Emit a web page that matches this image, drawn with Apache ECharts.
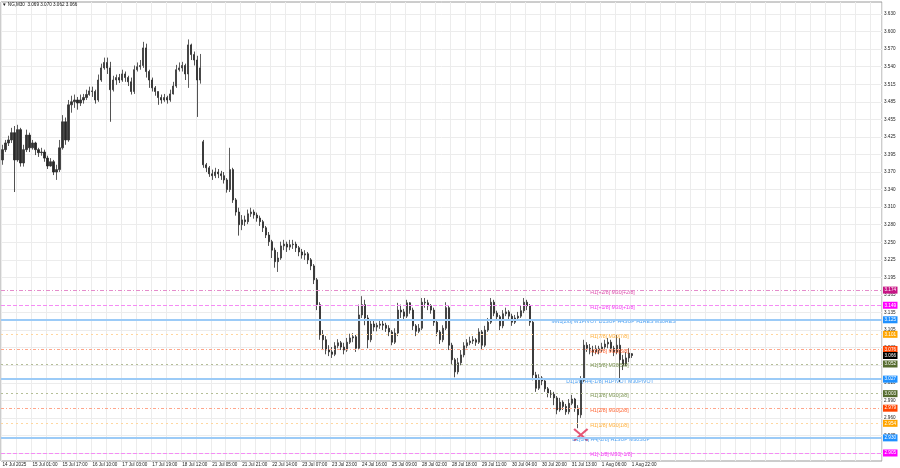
<!DOCTYPE html>
<html><head><meta charset="utf-8">
<script src="https://cdn.jsdelivr.net/npm/echarts@6.0.0/dist/echarts.min.js"></script>
<style>html,body{margin:0;padding:0;background:#fff}#c{width:900px;height:468px}</style>
</head><body><div id="c"></div>
<script>
// ---------------- data ----------------
const symbolName = 'NG,M30';
const timeLabels = ['14 Jul 2025','15 Jul 01:00','15 Jul 17:00','16 Jul 10:00','17 Jul 03:00','17 Jul 19:00','18 Jul 12:00','21 Jul 05:00','21 Jul 21:00','22 Jul 14:00','23 Jul 07:00','23 Jul 23:00','24 Jul 16:00','25 Jul 09:00','28 Jul 02:00','28 Jul 18:00','29 Jul 11:00','30 Jul 04:00','30 Jul 20:00','31 Jul 13:00','1 Aug 06:00','1 Aug 22:00'];
const yTickLabels = ['3.630','3.600','3.570','3.540','3.515','3.485','3.455','3.425','3.395','3.370','3.340','3.310','3.280','3.250','3.225','3.195','3.165','3.135','3.105','3.080','3.050','3.020','2.990','2.960','2.935','2.905'];

const opens = [
3.389,3.406,3.417,3.422,3.434,3.389,3.439,3.384,3.406,3.430,
3.409,3.417,3.406,3.401,3.402,3.392,3.379,3.386,3.369,3.373,
3.409,3.452,3.422,3.480,3.485,3.488,3.483,3.488,3.492,3.497,
3.503,3.502,3.488,3.521,3.541,3.550,3.541,3.505,3.521,3.525,
3.521,3.531,3.525,3.518,3.502,3.538,3.543,3.545,3.574,3.535,
3.521,3.508,3.502,3.492,3.488,3.492,3.488,3.498,3.511,3.538,
3.541,3.545,3.531,3.579,3.563,3.554,3.521,3.419,3.381,3.376,
3.366,3.363,3.369,3.366,3.363,3.356,3.340,3.373,3.323,3.303,
3.282,3.290,3.287,3.300,3.303,3.298,3.293,3.287,3.277,3.265,
3.254,3.240,3.221,3.227,3.247,3.250,3.245,3.249,3.250,3.244,
3.237,3.232,3.234,3.224,3.214,3.191,3.150,3.100,3.092,3.075,
3.072,3.068,3.082,3.087,3.080,3.075,3.088,3.095,3.097,3.078,
3.133,3.150,3.128,3.092,3.118,3.113,3.116,3.118,3.116,3.111,
3.105,3.088,3.103,3.141,3.138,3.131,3.153,3.141,3.115,3.106,
3.111,3.154,3.153,3.148,3.141,3.121,3.105,3.092,3.111,3.145,
3.083,3.059,3.039,3.054,3.067,3.082,3.087,3.090,3.092,3.088,
3.105,3.083,3.108,3.121,3.154,3.136,3.130,3.115,3.135,3.138,
3.131,3.121,3.128,3.131,3.140,3.154,3.148,3.121,3.034,3.012,
3.029,3.024,3.011,3.004,3.002,2.996,2.976,2.989,2.982,2.973,
2.987,2.994,2.979,2.968,3.025,3.083,3.078,3.075,3.072,3.077,
3.075,3.080,3.085,3.088,3.078,3.072,3.083,3.059,3.050,3.062,
3.069];
const closes = [
3.406,3.417,3.422,3.434,3.389,3.439,3.384,3.406,3.430,3.409,
3.417,3.406,3.401,3.402,3.392,3.379,3.386,3.369,3.373,3.409,
3.452,3.422,3.480,3.485,3.488,3.483,3.488,3.492,3.497,3.503,
3.502,3.488,3.521,3.541,3.550,3.541,3.505,3.521,3.525,3.521,
3.531,3.525,3.518,3.502,3.538,3.543,3.545,3.574,3.535,3.521,
3.508,3.502,3.492,3.488,3.492,3.488,3.498,3.511,3.538,3.541,
3.545,3.531,3.579,3.563,3.554,3.521,3.541,3.381,3.376,3.366,
3.363,3.369,3.366,3.363,3.356,3.340,3.373,3.323,3.303,3.282,
3.290,3.287,3.300,3.303,3.298,3.293,3.287,3.277,3.265,3.254,
3.240,3.221,3.227,3.247,3.250,3.245,3.249,3.250,3.244,3.237,
3.232,3.234,3.224,3.214,3.191,3.150,3.100,3.092,3.075,3.072,
3.068,3.082,3.087,3.080,3.075,3.088,3.095,3.097,3.078,3.133,
3.150,3.128,3.092,3.118,3.113,3.116,3.118,3.116,3.111,3.105,
3.088,3.103,3.141,3.138,3.131,3.153,3.141,3.115,3.106,3.111,
3.154,3.153,3.148,3.141,3.121,3.105,3.092,3.111,3.145,3.083,
3.059,3.039,3.054,3.067,3.082,3.087,3.090,3.092,3.088,3.105,
3.083,3.108,3.121,3.154,3.136,3.130,3.115,3.135,3.138,3.131,
3.121,3.128,3.131,3.140,3.154,3.148,3.121,3.034,3.012,3.029,
3.024,3.011,3.004,3.002,2.996,2.976,2.989,2.982,2.973,2.987,
2.994,2.979,2.968,3.025,3.083,3.078,3.075,3.072,3.077,3.075,
3.080,3.085,3.088,3.078,3.072,3.083,3.059,3.050,3.062,3.070,
3.066];
const lows = [
3.381,3.402,3.412,3.417,3.336,3.386,3.378,3.378,3.402,3.402,
3.406,3.397,3.394,3.396,3.386,3.374,3.378,3.364,3.356,3.369,
3.406,3.414,3.419,3.467,3.475,3.472,3.478,3.482,3.488,3.495,
3.493,3.482,3.485,3.518,3.538,3.531,3.452,3.502,3.513,3.516,
3.518,3.518,3.511,3.497,3.498,3.535,3.538,3.541,3.525,3.508,
3.502,3.495,3.480,3.482,3.485,3.482,3.485,3.497,3.508,3.535,
3.535,3.521,3.508,3.554,3.545,3.460,3.515,3.376,3.369,3.361,
3.356,3.359,3.359,3.356,3.350,3.335,3.336,3.318,3.297,3.264,
3.273,3.280,3.283,3.295,3.292,3.287,3.280,3.270,3.260,3.247,
3.227,3.211,3.204,3.224,3.240,3.237,3.240,3.242,3.237,3.230,
3.226,3.224,3.217,3.207,3.184,3.141,3.092,3.075,3.068,3.065,
3.062,3.065,3.078,3.075,3.068,3.072,3.085,3.088,3.072,3.075,
3.128,3.116,3.078,3.088,3.106,3.106,3.110,3.108,3.105,3.098,
3.083,3.085,3.098,3.128,3.125,3.128,3.135,3.108,3.098,3.103,
3.108,3.145,3.141,3.135,3.115,3.098,3.085,3.088,3.108,3.075,
3.052,3.030,3.035,3.050,3.063,3.078,3.083,3.085,3.082,3.085,
3.075,3.080,3.105,3.118,3.131,3.125,3.108,3.111,3.131,3.125,
3.115,3.118,3.125,3.128,3.136,3.141,3.115,3.025,3.006,3.009,
3.017,3.006,2.997,2.996,2.984,2.969,2.973,2.976,2.968,2.969,
2.984,2.973,2.946,2.963,3.022,3.072,3.068,3.065,3.068,3.068,
3.072,3.077,3.078,3.072,3.065,3.068,3.022,3.042,3.049,3.055,
3.062];
const highs = [
3.414,3.422,3.429,3.442,3.445,3.447,3.442,3.414,3.439,3.434,
3.422,3.419,3.409,3.409,3.406,3.396,3.392,3.389,3.381,3.422,
3.463,3.459,3.488,3.495,3.497,3.493,3.497,3.498,3.505,3.510,
3.510,3.505,3.530,3.548,3.558,3.558,3.551,3.528,3.530,3.531,
3.538,3.535,3.528,3.525,3.545,3.550,3.554,3.584,3.581,3.538,
3.525,3.511,3.502,3.497,3.498,3.495,3.505,3.518,3.546,3.550,
3.551,3.548,3.588,3.581,3.568,3.561,3.564,3.422,3.384,3.379,
3.373,3.376,3.374,3.371,3.369,3.359,3.409,3.376,3.326,3.310,
3.298,3.297,3.307,3.310,3.307,3.302,3.297,3.290,3.280,3.270,
3.257,3.244,3.237,3.254,3.257,3.254,3.257,3.257,3.254,3.247,
3.242,3.240,3.237,3.227,3.217,3.194,3.154,3.108,3.098,3.083,
3.080,3.088,3.093,3.090,3.087,3.095,3.102,3.103,3.100,3.150,
3.164,3.158,3.133,3.125,3.125,3.120,3.125,3.123,3.120,3.116,
3.108,3.111,3.153,3.150,3.143,3.158,3.154,3.145,3.118,3.118,
3.161,3.161,3.158,3.151,3.145,3.125,3.108,3.116,3.154,3.148,
3.087,3.062,3.062,3.075,3.088,3.093,3.097,3.098,3.095,3.111,
3.108,3.115,3.128,3.161,3.158,3.140,3.133,3.141,3.145,3.141,
3.135,3.133,3.138,3.148,3.161,3.158,3.151,3.125,3.039,3.035,
3.032,3.027,3.014,3.009,3.006,2.999,2.996,2.992,2.986,2.994,
3.001,2.996,2.984,3.032,3.092,3.088,3.085,3.082,3.083,3.082,
3.087,3.092,3.095,3.092,3.082,3.100,3.095,3.067,3.072,3.078,
3.070];

const levelPrices = [3.174, 3.149, 3.125, 3.101, 3.076, 3.052, 3.027, 3.003, 2.979, 2.954, 2.930, 2.905];
const levelNames = ['H1[+2/8] M30[+2/8]','H1[+1/8] M30[+1/8]','MN1[2/8] W1PIVOT D1SUP H4SUP H1RES M30RES','H1[7/8] M30[7/8]','H1[6/8] M30[6/8]','H1[5/8] M30[5/8]','D1[1/8] H4[-1/8] H1PIVOT M30PIVOT','H1[3/8] M30[3/8]','H1[2/8] M30[2/8]','H1[1/8] M30[1/8]','D1[0/8] H4[-2/8] H1SUP M30SUP','H1[-1/8] M30[-1/8]'];
const currentPrice = 3.066;
const crossMark = [193, 2.935];

// ---------------- styles / layout ----------------
const FONT = '"Liberation Sans", Arial, sans-serif';
const SLOTS = 294, LABEL_EVERY = 10;
const PRICE_MIN = 2.905, PRICE_MAX = 3.630, PRICE_STEP = 0.029;
const PINK = {line:'#e58ccb', tag:'#c71585', text:'#d21a94', type:[4,2,1,2], width:1};
const MAG  = {line:'#f58cf5', tag:'#ff00ff', text:'#f000f0', type:[4,2], width:1};
const BLUE = {line:'#9ccbf7', tag:'#1e90ff', text:'#1e88f0', type:'solid', width:2};
const ORG  = {line:'#ffd7a0', tag:'#ffa500', text:'#ff9900', type:[2,3], width:1};
const ORR  = {line:'#ffa68a', tag:'#ff4500', text:'#ff4000', type:[3,2,1,2], width:1};
const OLV  = {line:'#b5bf98', tag:'#556b2f', text:'#55761f', type:[2,3], width:1};
const levelStyles = [
  Object.assign({textAt:196}, PINK), Object.assign({textAt:196}, MAG), Object.assign({textAt:183}, BLUE),
  Object.assign({textAt:196}, ORG), Object.assign({textAt:196}, ORR), Object.assign({textAt:196}, OLV),
  Object.assign({textAt:188}, BLUE), Object.assign({textAt:196}, OLV), Object.assign({textAt:196}, ORR),
  Object.assign({textAt:196}, ORG), Object.assign({textAt:190}, BLUE), Object.assign({textAt:196}, MAG)
];

const cats = Array.from({length: SLOTS}, (_, i) => String(i));
const candles = opens.map((o, i) => [o, closes[i], lows[i], highs[i]]);
const last = candles.length - 1;
const titleText = '\u25BC ' + symbolName + '  ' + [opens[last], highs[last], lows[last], closes[last]].map(v => v.toFixed(3)).join(' ');

const tagLabel = (bg, txt) => ({
  show: true, position: 'end', distance: 1, formatter: txt,
  backgroundColor: bg, color: '#fff', fontFamily: FONT, fontSize: 4.6, lineHeight: 5,
  padding: [1, 1.5, 1, 1.5]
});

const markLines = levelPrices.map((p, i) => ({
  yAxis: p,
  lineStyle: {color: levelStyles[i].line, type: levelStyles[i].type, width: levelStyles[i].width},
  label: tagLabel(levelStyles[i].tag, p.toFixed(3))
}));
markLines.push({
  yAxis: currentPrice,
  lineStyle: {color: 'rgba(0,0,0,0)', width: 0},
  label: tagLabel('#000000', currentPrice.toFixed(3))
});

const textPoints = levelPrices.map((p, i) => ({
  value: [levelStyles[i].textAt, p],
  label: {color: levelStyles[i].text}
}));

const chart = echarts.init(document.getElementById('c'), null, {renderer: 'canvas'});
chart.setOption({
  animation: false,
  backgroundColor: '#ffffff',
  title: {
    text: titleText, left: 2, top: 2, padding: 0,
    textStyle: {fontFamily: FONT, fontSize: 4.6, fontWeight: 'normal', color: '#111'}
  },
  grid: [
    {left: 1, right: 18, top: 2, bottom: 7, show: true, borderColor: '#9a9a9a', borderWidth: 1,
     backgroundColor: '#ffffff', containLabel: false, outerBoundsMode: 'none'},
    {left: 1, right: 18, top: 14, bottom: 15, containLabel: false, outerBoundsMode: 'none'}
  ],
  xAxis: [
    {gridIndex: 0, type: 'category', data: cats, boundaryGap: true,
     axisLine: {show: false}, axisTick: {show: false},
     splitLine: {show: true, interval: 4, lineStyle: {color: '#ececec', width: 1}},
     axisLabel: {interval: LABEL_EVERY - 1, align: 'left', margin: 1.5, color: '#222',
       fontFamily: FONT, fontSize: 4.6,
       formatter: (v, idx) => (idx % LABEL_EVERY === 0 && timeLabels[idx / LABEL_EVERY]) || ''}},
    {gridIndex: 1, type: 'category', data: cats, boundaryGap: true, show: false}
  ],
  yAxis: [
    {gridIndex: 0, type: 'value', min: 0, max: 1, show: false},
    {gridIndex: 1, type: 'value', position: 'right', min: PRICE_MIN, max: PRICE_MAX, interval: PRICE_STEP,
     axisLine: {show: false}, axisTick: {show: false},
     splitLine: {show: true, lineStyle: {color: '#ececec', width: 1}},
     axisLabel: {margin: 2, color: '#222', fontFamily: FONT, fontSize: 4.6,
       formatter: v => yTickLabels[Math.round((PRICE_MAX - v) / PRICE_STEP)] || ''}}
  ],
  series: [
    {
      type: 'candlestick', xAxisIndex: 1, yAxisIndex: 1, data: candles, barWidth: 1.7,
      itemStyle: {color: '#333333', color0: '#262626', borderColor: '#333333', borderColor0: '#262626', borderWidth: 0.8},
      silent: true,
      markLine: {silent: true, symbol: 'none', animation: false, precision: 3, data: markLines}
    },
    {
      type: 'scatter', xAxisIndex: 1, yAxisIndex: 1, data: textPoints, symbolSize: 1, silent: true,
      itemStyle: {color: 'rgba(0,0,0,0)'},
      label: {show: true, position: 'right', distance: 0, offset: [0, 2],
        fontFamily: FONT, fontSize: 5.2,
        formatter: p => levelNames[p.dataIndex]}
    },
    {
      type: 'scatter', xAxisIndex: 1, yAxisIndex: 1, data: [crossMark], silent: true,
      symbol: 'path://M0,1.6L1.6,0L8,6.4L14.4,0L16,1.6L9.6,8L16,14.4L14.4,16L8,9.6L1.6,16L0,14.4L6.4,8Z',
      symbolSize: [15, 13], itemStyle: {color: '#e02a52'}
    }
  ]
});
</script>
</body></html>
